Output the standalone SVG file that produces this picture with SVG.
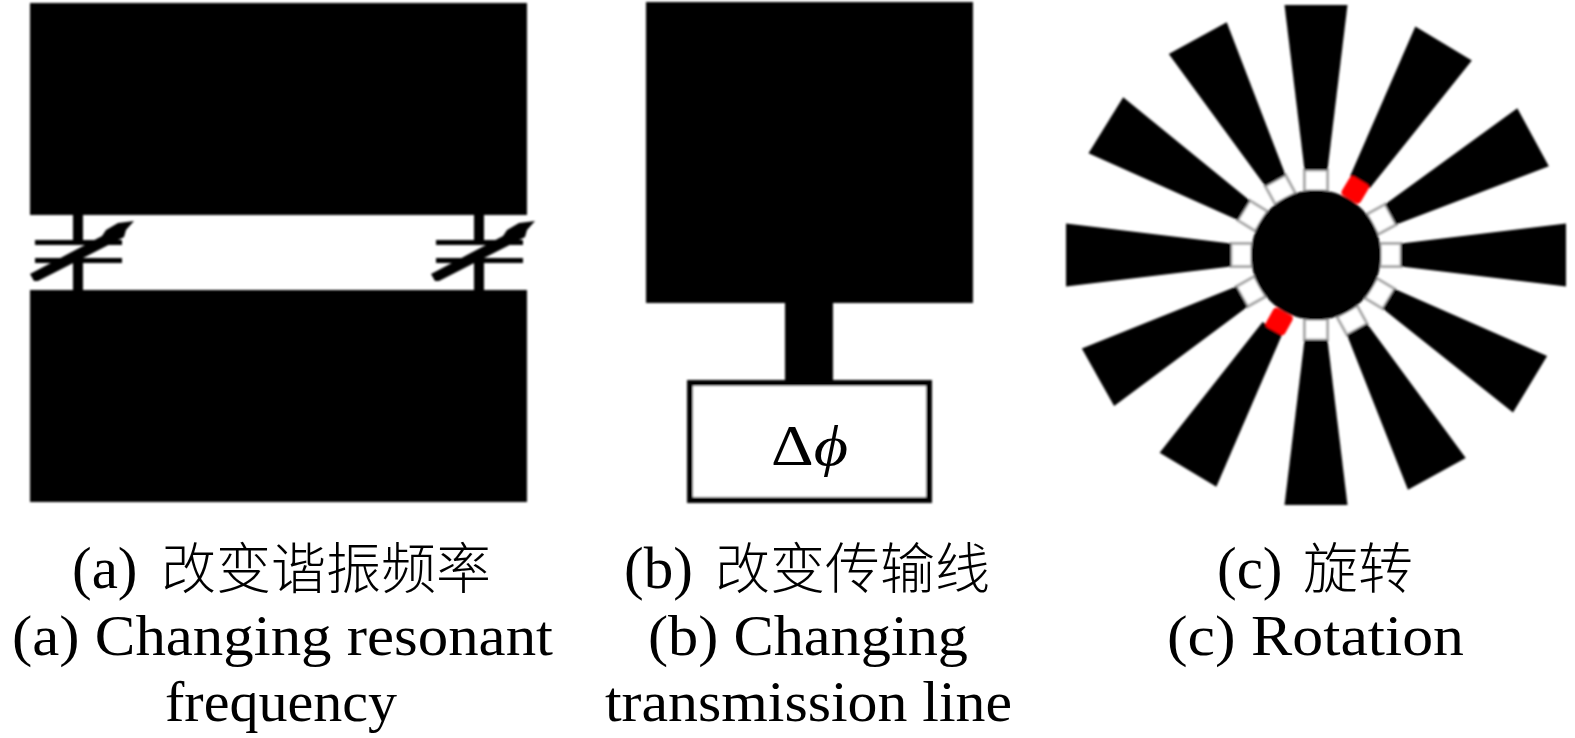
<svg xmlns="http://www.w3.org/2000/svg" width="1575" height="738" viewBox="0 0 1575 738">
<style>
.t{font-family:"Liberation Serif","Noto Sans CJK SC",serif;font-size:56px;fill:#000}
.h{font-size:59px}
.c{font-family:"Noto Sans CJK SC","Liberation Serif",sans-serif;font-size:55px;font-weight:300;fill:#000}
.k{fill:#000}
.g{fill:#fff;stroke:#aaa;stroke-width:3}
.r{fill:#f00}
</style>
<defs>
<filter id="soft" x="-5%" y="-5%" width="110%" height="110%"><feGaussianBlur stdDeviation="0.8"/></filter>
<rect id="gap" class="g" x="-11.5" y="-85" width="23" height="21"/>
<polygon id="axis" class="k" points="-11.5,-85 11.5,-85 31.5,-250 -31.5,-250"/>
<polygon id="diag" class="k" points="-11.5,-85 11.5,-85 33,-247 -33,-247"/>
<polygon id="long" class="k" points="-11.5,-85 11.5,-85 33,-250 -33,-250"/>
<rect id="dot" class="r" x="-11" y="-87" width="22" height="22" rx="4"/>
<g id="cap">
<polygon class="k" points="30,274 34,281 38,281 124,237 126,230 134,221 118,223 106,230 102,236"/>
<rect class="k" x="35" y="240" width="87" height="5"/>
<rect class="k" x="35" y="258" width="87" height="5"/>
<rect class="k" x="73" y="213" width="10" height="28"/>
<rect class="k" x="73" y="262" width="10" height="30"/>
</g>
</defs>
<rect width="1575" height="738" fill="#fff"/>
<g id="panel-a" filter="url(#soft)">
<rect class="k" x="30" y="3" width="497" height="212"/>
<rect class="k" x="30" y="290" width="497" height="212"/>
<use href="#cap"/>
<use href="#cap" x="401"/>
</g>
<g id="panel-b" filter="url(#soft)">
<rect class="k" x="646" y="2" width="327" height="301"/>
<rect class="k" x="785" y="300" width="48" height="82"/>
<rect x="690" y="383" width="239" height="117" fill="#fff" stroke="#000" stroke-width="6"/>
</g>
<g id="panel-c" filter="url(#soft)" transform="translate(1316 255)">
<use href="#gap"/><use href="#axis"/>
<use href="#diag" transform="rotate(31.1)"/>
<use href="#gap" transform="rotate(61.5)"/><use href="#diag" transform="rotate(61.5)"/>
<use href="#gap" transform="rotate(90)"/><use href="#axis" transform="rotate(90)"/>
<use href="#gap" transform="rotate(121.1)"/><use href="#long" transform="rotate(121.1)"/>
<use href="#gap" transform="rotate(151.1)"/><use href="#long" transform="rotate(151.1)"/>
<use href="#gap" transform="rotate(180)"/><use href="#axis" transform="rotate(180)"/>
<use href="#long" transform="rotate(210.8)"/>
<use href="#gap" transform="rotate(240.7)"/><use href="#long" transform="rotate(240.7)"/>
<use href="#gap" transform="rotate(270)"/><use href="#axis" transform="rotate(270)"/>
<use href="#gap" transform="rotate(301.7)"/><use href="#diag" transform="rotate(301.7)"/>
<use href="#gap" transform="rotate(331.4)"/><use href="#diag" transform="rotate(331.4)"/>
<use href="#dot" transform="rotate(31)"/>
<use href="#dot" transform="rotate(209)"/>
<circle class="k" r="65"/>
</g>
<g id="labels">
<text class="t" x="771" y="465" textLength="77" lengthAdjust="spacingAndGlyphs">Δ<tspan font-style="italic">ϕ</tspan></text>
<text class="t h" x="72" y="588">(a)<tspan class="c" x="161">改变谐振频率</tspan></text>
<text class="t" x="12" y="655" textLength="541" lengthAdjust="spacingAndGlyphs">(a) Changing resonant</text>
<text class="t" x="165" y="721" textLength="232" lengthAdjust="spacingAndGlyphs">frequency</text>
<text class="t h" x="624" y="588">(b)<tspan class="c" x="715">改变传输线</tspan></text>
<text class="t" x="648" y="655" textLength="320" lengthAdjust="spacingAndGlyphs">(b) Changing</text>
<text class="t" x="605" y="721" textLength="407" lengthAdjust="spacingAndGlyphs">transmission line</text>
<text class="t h" x="1217" y="588">(c)<tspan class="c" x="1303">旋转</tspan></text>
<text class="t" x="1167" y="655" textLength="297" lengthAdjust="spacingAndGlyphs">(c) Rotation</text>
</g>
</svg>
